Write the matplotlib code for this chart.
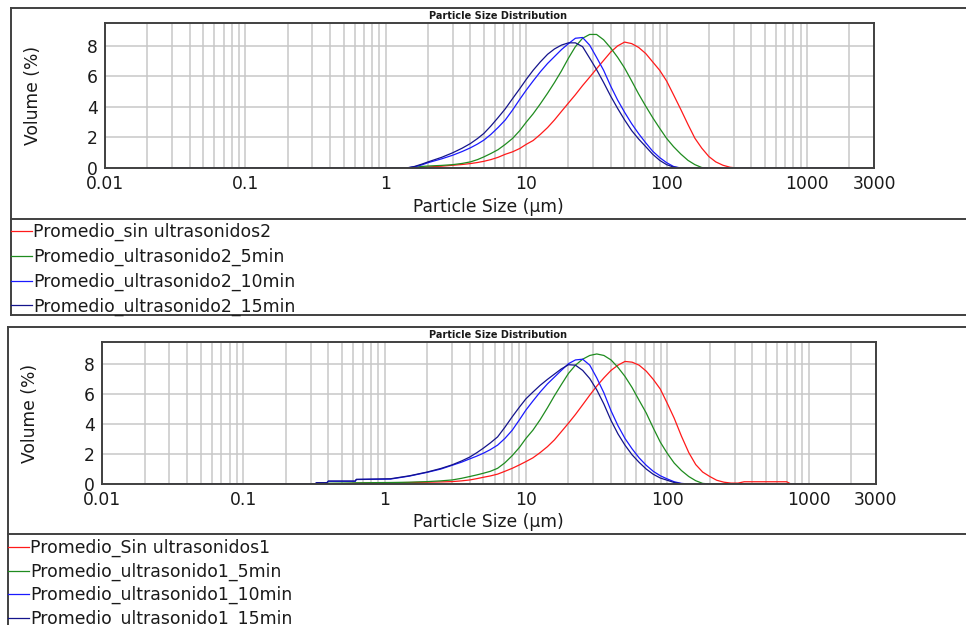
import matplotlib
matplotlib.use('Agg')
import matplotlib.pyplot as plt
import numpy as np
from matplotlib.ticker import FixedLocator, LogLocator, NullFormatter

W, H = 966, 625

# particle size (um) and volume (%)
top_size = [0.02, 1.4, 1.6, 1.8, 2, 2.5, 3, 3.5, 4, 4.5,
            5, 5.6, 6.3, 7.1, 8, 9, 10, 11.2, 12.6, 14.2,
            15.9, 17.8, 20, 22.4, 25.2, 28.3, 31.7, 35.6, 40, 44.8,
            50.2, 56.4, 63.2, 71, 79.6, 89.3, 100, 112, 126, 142,
            159, 178, 200, 224, 252, 283, 317, 2000]
top_sin = [0, 0, 0, 0.03, 0.07, 0.12, 0.18, 0.23, 0.29, 0.36,
           0.44, 0.55, 0.7, 0.9, 1.06, 1.28, 1.55, 1.8, 2.2, 2.65,
           3.15, 3.7, 4.26, 4.8, 5.4, 5.95, 6.5, 7.05, 7.6, 8.0,
           8.25, 8.15, 7.9, 7.5, 6.95, 6.4, 5.7, 4.8, 3.85, 2.85,
           1.95, 1.3, 0.75, 0.4, 0.18, 0.05, 0, 0]
top_5min = [0, 0, 0.05, 0.1, 0.13, 0.17, 0.22, 0.3, 0.4, 0.55,
            0.73, 0.95, 1.2, 1.55, 1.94, 2.45, 3.0, 3.55, 4.2, 4.9,
            5.6, 6.35, 7.2, 7.95, 8.5, 8.75, 8.75, 8.4, 7.86, 7.25,
            6.55, 5.7, 4.85, 4.05, 3.3, 2.6, 1.94, 1.4, 0.92, 0.5,
            0.22, 0.03, 0, 0, 0, 0, 0, 0]
top_10min = [0, 0, 0.08, 0.2, 0.35, 0.6, 0.84, 1.08, 1.32, 1.57,
             1.83, 2.2, 2.65, 3.15, 3.8, 4.5, 5.1, 5.7, 6.3, 6.85,
             7.3, 7.75, 8.15, 8.5, 8.55, 8.05, 7.25, 6.4, 5.36, 4.45,
             3.65, 2.9, 2.25, 1.65, 1.1, 0.68, 0.35, 0.1, 0, 0,
             0, 0, 0, 0, 0, 0, 0, 0]
top_15min = [0, 0, 0.1, 0.25, 0.4, 0.7, 1.0, 1.3, 1.6, 1.93,
             2.27, 2.75, 3.3, 3.88, 4.55, 5.2, 5.8, 6.4, 6.95, 7.45,
             7.8, 8.05, 8.2, 8.2, 7.95, 7.2, 6.45, 5.6, 4.7, 3.9,
             3.15, 2.45, 1.9, 1.4, 0.9, 0.5, 0.22, 0.06, 0, 0,
             0, 0, 0, 0, 0, 0, 0, 0]
top_labels = ['Promedio_sin ultrasonidos2', 'Promedio_ultrasonido2_5min',
              'Promedio_ultrasonido2_10min', 'Promedio_ultrasonido2_15min']

bot_size = [0.02, 0.32, 0.33, 0.39, 0.4, 0.6, 0.62, 0.63, 1.1, 1.5,
            2, 2.5, 3, 3.5, 4, 4.5, 5, 5.6, 6.3, 7.1,
            8, 9, 10, 11.2, 12.6, 14.2, 15.9, 17.8, 20, 22.4,
            25.2, 28.3, 31.7, 35.6, 40, 44.8, 50.2, 56.4, 63.2, 71,
            79.6, 89.3, 100, 112, 126, 142, 159, 178, 200, 224,
            252, 283, 317, 350, 700, 750, 2000]
bot_sin = [0, 0, 0, 0, 0, 0.04, 0.05, 0.05, 0.08, 0.1,
           0.12, 0.14, 0.16, 0.21, 0.27, 0.36, 0.45, 0.54, 0.66, 0.85,
           1.05, 1.28, 1.5, 1.75, 2.1, 2.5, 2.95, 3.5, 4.07, 4.65,
           5.3, 5.95, 6.55, 7.1, 7.6, 7.95, 8.2, 8.15, 7.95, 7.55,
           7.0, 6.35, 5.4, 4.4, 3.2, 2.1, 1.3, 0.8, 0.5, 0.25,
           0.12, 0.06, 0.06, 0.15, 0.15, 0, 0]
bot_5min = [0, 0, 0, 0.04, 0.05, 0.07, 0.08, 0.08, 0.1, 0.12,
            0.16, 0.21, 0.27, 0.38, 0.5, 0.61, 0.72, 0.85, 1.05, 1.42,
            1.9, 2.45, 3.05, 3.6, 4.3, 5.1, 5.9, 6.65, 7.4, 7.95,
            8.35, 8.6, 8.7, 8.6, 8.3, 7.8, 7.2, 6.45, 5.6, 4.75,
            3.75, 2.8, 2.05, 1.4, 0.9, 0.5, 0.22, 0.04, 0, 0,
            0, 0, 0, 0, 0, 0, 0]
bot_10min = [0, 0, 0.07, 0.07, 0.18, 0.18, 0.18, 0.3, 0.33, 0.53,
             0.78, 1.0, 1.25, 1.46, 1.68, 1.87, 2.06, 2.3, 2.6, 3.05,
             3.6, 4.3, 4.95, 5.55, 6.15, 6.7, 7.15, 7.6, 8.05, 8.3,
             8.35, 7.95, 7.1, 6.1, 4.9, 3.9, 3.05, 2.35, 1.75, 1.25,
             0.85, 0.55, 0.34, 0.15, 0.04, 0, 0, 0, 0, 0,
             0, 0, 0, 0, 0, 0, 0]
bot_15min = [0, 0, 0.09, 0.09, 0.2, 0.2, 0.2, 0.31, 0.35, 0.55,
             0.8, 1.04, 1.28, 1.54, 1.8, 2.1, 2.4, 2.75, 3.15, 3.8,
             4.5, 5.15, 5.7, 6.15, 6.6, 7.0, 7.35, 7.7, 7.98, 7.95,
             7.6, 7.05, 6.3, 5.35, 4.25, 3.35, 2.6, 1.95, 1.45, 1.0,
             0.65, 0.4, 0.25, 0.1, 0.02, 0, 0, 0, 0, 0,
             0, 0, 0, 0, 0, 0, 0]
bot_labels = ['Promedio_Sin ultrasonidos1', 'Promedio_ultrasonido1_5min',
              'Promedio_ultrasonido1_10min', 'Promedio_ultrasonido1_15min']

colors = ['#ff1a1a', '#1f8c1f', '#1a1aff', '#14148c']
xticks = [0.01, 0.1, 1, 10, 100, 1000, 3000]
xticklabels = ['0.01', '0.1', '1', '10', '100', '1000', '3000']
frame_col = '#404040'
txt_col = '#1a1a1a'

fig = plt.figure(figsize=(W / 100, H / 100), dpi=100)
bg = fig.add_axes([0, 0, 1, 1])
bg.set_xlim(0, W)
bg.set_ylim(H, 0)
bg.axis('off')


def px_rect(l, t, r, b):
    return [l / W, 1 - b / H, (r - l) / W, (b - t) / H]


def panel(box, frame, sep, sizes, series, labels, title_y, xlab_y, ylab_x, leg_top, leg_sp):
    l, t, r, b = box
    fl, ft, fb = frame
    # outer frame + legend separator
    bg.plot([fl, fl], [ft, fb], color=frame_col, lw=1.4)
    bg.plot([fl, W], [ft, ft], color=frame_col, lw=1.4)
    bg.plot([fl, W], [sep, sep], color=frame_col, lw=1.4)
    bg.plot([fl, W], [fb, fb], color=frame_col, lw=1.4)
    bg.text(498, title_y, 'Particle Size Distribution', fontsize=7, fontweight='bold',
            ha='center', va='center', color=txt_col)
    bg.text(488, xlab_y, 'Particle Size (\u00b5m)', fontsize=12.3, ha='center', va='center', color=txt_col)
    bg.text(ylab_x, (t + b) / 2, 'Volume (%)', fontsize=12.3, rotation=90, ha='center', va='center',
            color=txt_col)

    ax = fig.add_axes(px_rect(l, t, r, b))
    lines = []
    for vals, c, lab in zip(series, colors, labels):
        ln, = ax.plot(sizes, vals, color=c, lw=0.9, label=lab)
        lines.append(ln)
    ax.set_xscale('log')
    ax.set_xlim(0.01, 3000)
    ax.set_ylim(0, 9.5)
    ax.xaxis.set_major_locator(FixedLocator(xticks))
    ax.set_xticklabels(xticklabels)
    ax.xaxis.set_minor_locator(LogLocator(base=10, subs=np.arange(2, 10), numticks=100))
    ax.xaxis.set_minor_formatter(NullFormatter())
    ax.set_yticks([0, 2, 4, 6, 8])
    ax.tick_params(which='both', length=0, labelsize=12.3, colors=txt_col, pad=5)
    ax.grid(True, which='both', axis='x', color='#c8c8c8', lw=1.1)
    ax.grid(True, which='major', axis='y', color='#c8c8c8', lw=1.1)
    ax.set_axisbelow(True)
    for s in ax.spines.values():
        s.set_color(frame_col)
        s.set_linewidth(1.4)

    ax.legend(handles=lines, loc='upper left', bbox_to_anchor=(fl, leg_top), bbox_transform=bg.transData,
              frameon=False, fontsize=12.4, handlelength=1.22, handletextpad=0.05, borderpad=0,
              borderaxespad=0, labelspacing=leg_sp, labelcolor=txt_col)
    return ax


panel((105, 23, 874, 168), (11, 8, 315), 219, top_size,
      [top_sin, top_5min, top_10min, top_15min], top_labels,
      16, 207, 33, 223, 0.38)
panel((102, 342, 876, 484), (8, 327, 640), 534, bot_size,
      [bot_sin, bot_5min, bot_10min, bot_15min], bot_labels,
      335, 522, 30, 539, 0.31)

fig.savefig('out.png', dpi=100)
